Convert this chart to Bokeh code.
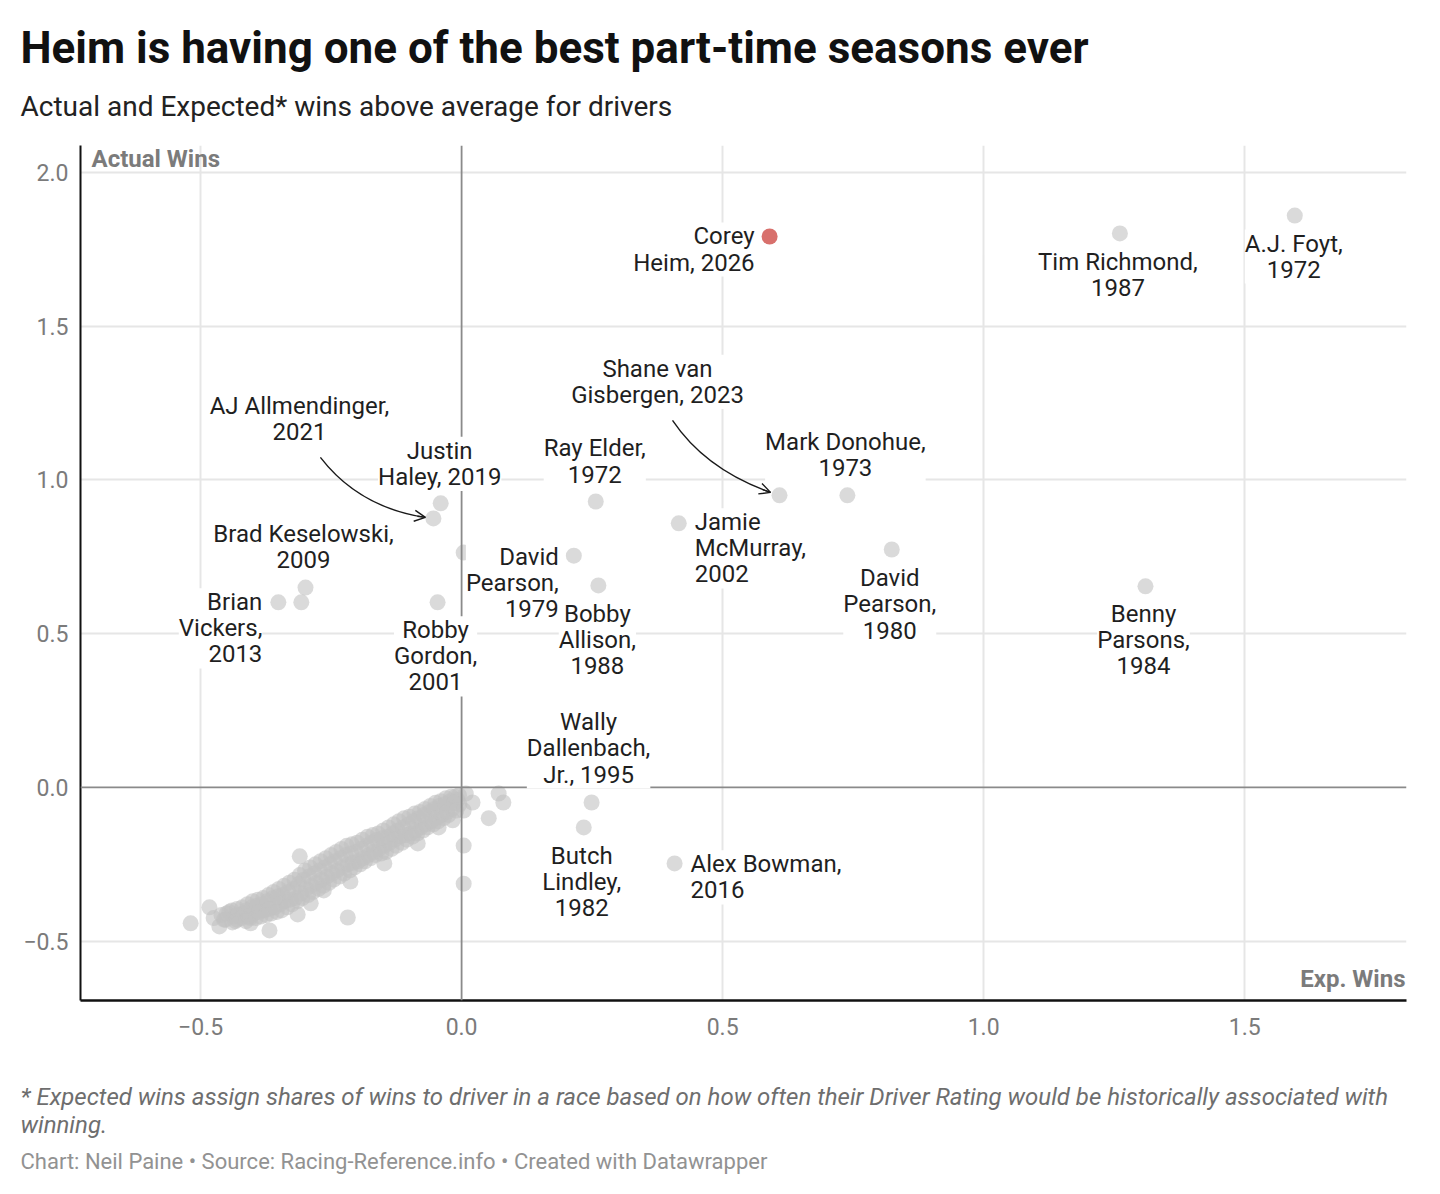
from bokeh.plotting import figure
from bokeh.layouts import column
from bokeh.models import (Label, Span, Range1d, FixedTicker, CustomJSTickFormatter,
                          ColumnDataSource, Arrow, OpenHead)
from bokeh.embed import file_html
from bokeh.resources import INLINE

# ---- data: expected wins above average (x) vs actual wins above average (y) ----
named_driver = [
    "Corey\nHeim, 2026", "Tim Richmond,\n1987", "A.J. Foyt,\n1972",
    "Shane van\nGisbergen, 2023", "Mark Donohue,\n1973", "David\nPearson,\n1980",
    "Benny\nParsons,\n1984", "Jamie\nMcMurray,\n2002", "Ray Elder,\n1972",
    "Bobby\nAllison,\n1988", "David\nPearson,\n1979", "Justin\nHaley, 2019",
    "AJ Allmendinger,\n2021", "Brad Keselowski,\n2009", "Brian\nVickers,\n2013",
    "Robby\nGordon,\n2001", "Wally\nDallenbach,\nJr., 1995", "Butch\nLindley,\n1982",
    "Alex Bowman,\n2016",
]
named_exp = [0.590, 1.261, 1.596, 0.609, 0.739, 0.824, 1.310, 0.416, 0.257, 0.262,
             0.215, -0.040, -0.054, -0.299, -0.351, -0.046, 0.249, 0.234, 0.408]
named_act = [1.792, 1.802, 1.860, 0.950, 0.950, 0.774, 0.654, 0.859, 0.930, 0.657,
             0.754, 0.924, 0.875, 0.650, 0.602, 0.602, -0.049, -0.130, -0.247]

# other driver-seasons
other_exp = [0.004, -0.307]
other_act = [0.764, 0.602]

field_pts = [
    (-0.519, -0.442), (-0.483, -0.390), (-0.464, -0.452), (-0.475, -0.425), (-0.455, -0.430),
    (-0.439, -0.439), (-0.404, -0.442), (-0.368, -0.465), (-0.445, -0.405), (-0.460, -0.415),
    (-0.440, -0.400), (-0.435, -0.420), (-0.430, -0.430),
    (-0.450, -0.410), (-0.452, -0.430),
    (-0.420, -0.390), (-0.418, -0.410), (-0.422, -0.425),
    (-0.430, -0.395), (-0.428, -0.415), (-0.433, -0.435),
    (-0.400, -0.370), (-0.402, -0.390), (-0.398, -0.410), (-0.405, -0.425),
    (-0.410, -0.380), (-0.412, -0.400), (-0.408, -0.420), (-0.413, -0.435),
    (-0.380, -0.360), (-0.383, -0.380), (-0.378, -0.400), (-0.385, -0.420),
    (-0.390, -0.365), (-0.392, -0.385), (-0.388, -0.405), (-0.394, -0.425),
    (-0.360, -0.340), (-0.362, -0.360), (-0.358, -0.390), (-0.365, -0.410),
    (-0.370, -0.350), (-0.372, -0.370), (-0.368, -0.395), (-0.374, -0.415),
    (-0.340, -0.320), (-0.343, -0.350), (-0.338, -0.370), (-0.345, -0.400),
    (-0.350, -0.330), (-0.352, -0.355), (-0.348, -0.380), (-0.354, -0.405),
    (-0.320, -0.300), (-0.322, -0.330), (-0.318, -0.360), (-0.325, -0.380),
    (-0.330, -0.310), (-0.332, -0.340), (-0.328, -0.365), (-0.334, -0.390),
    (-0.300, -0.270), (-0.303, -0.300), (-0.298, -0.330), (-0.305, -0.360),
    (-0.310, -0.285), (-0.312, -0.315), (-0.308, -0.345), (-0.314, -0.370),
    (-0.280, -0.250), (-0.282, -0.280), (-0.278, -0.310), (-0.285, -0.340),
    (-0.290, -0.260), (-0.292, -0.290), (-0.288, -0.320), (-0.294, -0.350),
    (-0.260, -0.230), (-0.262, -0.260), (-0.258, -0.290), (-0.265, -0.320),
    (-0.270, -0.240), (-0.272, -0.270), (-0.268, -0.300), (-0.274, -0.330),
    (-0.240, -0.210), (-0.243, -0.240), (-0.238, -0.270), (-0.245, -0.300),
    (-0.250, -0.220), (-0.252, -0.250), (-0.248, -0.280), (-0.254, -0.310),
    (-0.220, -0.190), (-0.222, -0.220), (-0.218, -0.250), (-0.225, -0.280),
    (-0.230, -0.200), (-0.232, -0.230), (-0.228, -0.260), (-0.234, -0.290),
    (-0.200, -0.180), (-0.203, -0.210), (-0.198, -0.240), (-0.205, -0.260),
    (-0.210, -0.185), (-0.212, -0.215), (-0.208, -0.245), (-0.214, -0.270),
    (-0.180, -0.160), (-0.182, -0.190), (-0.178, -0.220), (-0.185, -0.240),
    (-0.190, -0.170), (-0.192, -0.200), (-0.188, -0.230), (-0.194, -0.250),
    (-0.160, -0.150), (-0.163, -0.170), (-0.158, -0.200), (-0.165, -0.220),
    (-0.170, -0.155), (-0.172, -0.180), (-0.168, -0.210), (-0.174, -0.230),
    (-0.140, -0.130), (-0.142, -0.160), (-0.138, -0.180), (-0.145, -0.210),
    (-0.150, -0.140), (-0.152, -0.165), (-0.148, -0.190), (-0.154, -0.215),
    (-0.120, -0.110), (-0.123, -0.140), (-0.118, -0.160), (-0.125, -0.190),
    (-0.130, -0.120), (-0.132, -0.150), (-0.128, -0.170), (-0.134, -0.200),
    (-0.100, -0.095), (-0.102, -0.120), (-0.098, -0.150), (-0.105, -0.170),
    (-0.110, -0.100), (-0.112, -0.130), (-0.108, -0.155), (-0.114, -0.180),
    (-0.080, -0.080), (-0.083, -0.100), (-0.078, -0.130), (-0.085, -0.150),
    (-0.090, -0.085), (-0.092, -0.110), (-0.088, -0.140), (-0.094, -0.160),
    (-0.060, -0.060), (-0.062, -0.080), (-0.058, -0.110), (-0.065, -0.130),
    (-0.070, -0.070), (-0.072, -0.090), (-0.068, -0.120), (-0.074, -0.140),
    (-0.040, -0.045), (-0.043, -0.060), (-0.038, -0.090), (-0.045, -0.110),
    (-0.050, -0.050), (-0.052, -0.070), (-0.048, -0.100), (-0.054, -0.120),
    (-0.020, -0.030), (-0.022, -0.045), (-0.018, -0.070), (-0.025, -0.090),
    (-0.030, -0.035), (-0.032, -0.055), (-0.028, -0.080), (-0.034, -0.100),
    (-0.005, -0.025), (-0.008, -0.040), (-0.004, -0.055),
    (-0.012, -0.030), (-0.014, -0.050), (-0.010, -0.075),
    (-0.314, -0.413), (-0.310, -0.224), (-0.218, -0.423), (-0.213, -0.306), (-0.148, -0.247),
    (-0.084, -0.182), (-0.044, -0.130), (-0.017, -0.107), (0.004, -0.189), (0.004, -0.313),
    (0.071, -0.020), (0.080, -0.049), (0.052, -0.100), (0.021, -0.049), (0.004, -0.075),
    (-0.264, -0.335), (-0.289, -0.377), (0.008, -0.020),
]
field_exp = [pt[0] for pt in field_pts]
field_act = [pt[1] for pt in field_pts]

x_ticks = [-0.5, 0.0, 0.5, 1.0, 1.5]
y_ticks = [-0.5, 0.0, 0.5, 1.0, 1.5, 2.0]

headline = "Heim is having one of the best part-time seasons ever"
dek = "Actual and Expected* wins above average for drivers"
footnote = ["* Expected wins assign shares of wins to driver in a race based on how often "
            "their Driver Rating would be historically associated with", "winning."]
credit = "Chart: Neil Paine \u2022 Source: Racing-Reference.info \u2022 Created with Datawrapper"

# ---- page geometry (pixels) ----
W = 1440
HEAD_H, MAIN_H, FOOT_H = 140, 910, 144
L, R = 80, 34
FRAME_TOP, FRAME_BOTTOM = 145, 1000
X0, X1 = -0.73, 1.81
Y0, Y1 = -0.693, 2.088
FW = W - L - R
FH = FRAME_BOTTOM - FRAME_TOP
px_x = FW / (X1 - X0)
px_y = FH / (Y1 - Y0)

FONT = "Roboto"
INK = "#1f1f1f"
AXIS_GREY = "#7b7b7b"


def text_strip(height):
    """A bare figure whose data units are page pixels (y grows downward)."""
    f = figure(width=W, height=height, output_backend="svg", toolbar_location=None,
               x_range=Range1d(0, W), y_range=Range1d(height, 0),
               x_axis_type=None, y_axis_type=None, frame_align=False,
               min_border_left=0, min_border_right=0, min_border_top=0, min_border_bottom=0)
    f.title = None
    f.outline_line_color = None
    f.grid.visible = False
    f.background_fill_color = "white"
    f.border_fill_color = "white"
    return f


def put_text(f, text, x, y, size, color, style="normal"):
    f.add_layout(Label(x=x, y=y, text=text, text_font=FONT, text_font_size=size,
                       text_color=color, text_font_style=style,
                       text_align="left", text_baseline="middle"))


# ---- headline strip ----
head = text_strip(HEAD_H)
put_text(head, headline, 20, 47, "44px", "#111111", "bold")
put_text(head, dek, 20, 106, "28px", "#222222")

# ---- scatter ----
p = figure(width=W, height=MAIN_H, output_backend="svg", toolbar_location=None,
           x_range=Range1d(X0, X1), y_range=Range1d(Y0, Y1), frame_align=False,
           min_border_left=L, min_border_right=R,
           min_border_top=FRAME_TOP - HEAD_H,
           min_border_bottom=HEAD_H + MAIN_H - FRAME_BOTTOM)
p.title = None
p.outline_line_color = None
p.background_fill_color = "white"
p.border_fill_color = "white"

minus_fmt = CustomJSTickFormatter(code="return (tick < 0 ? '\\u2212' : '') + Math.abs(tick).toFixed(1);")

for ax, ticks in ((p.xaxis[0], x_ticks), (p.yaxis[0], y_ticks)):
    ax.ticker = FixedTicker(ticks=ticks)
    ax.formatter = minus_fmt
    ax.major_tick_line_color = None
    ax.minor_tick_line_color = None
    ax.major_tick_out = 0
    ax.major_tick_in = 0
    ax.axis_line_color = "#111111"
    ax.major_label_text_font = FONT
    ax.major_label_text_font_size = "23px"
    ax.major_label_text_color = AXIS_GREY
p.yaxis[0].axis_line_width = 2
p.xaxis[0].axis_line_width = 2.5
p.yaxis[0].major_label_standoff = 12
p.xaxis[0].major_label_standoff = 17

p.xgrid[0].ticker = FixedTicker(ticks=[t for t in x_ticks if t != 0])
p.ygrid[0].ticker = FixedTicker(ticks=[t for t in y_ticks if t != 0])
for g in (p.xgrid[0], p.ygrid[0]):
    g.grid_line_color = "#e6e6e6"
    g.grid_line_width = 2

p.add_layout(Span(location=0, dimension="height", line_color="#8a8a8a", line_width=1.8))
p.add_layout(Span(location=0, dimension="width", line_color="#8a8a8a", line_width=1.8))

DOT = 16
GREY_DOT = dict(size=DOT, fill_color="#c2c2c2", fill_alpha=0.6, line_color=None)
p.scatter(x=field_exp, y=field_act, **GREY_DOT)
p.scatter(x=other_exp, y=other_act, **GREY_DOT)
src = ColumnDataSource(dict(x=named_exp[1:], y=named_act[1:]))
p.scatter(x="x", y="y", source=src, **GREY_DOT)
p.scatter(x=named_exp[:1], y=named_act[:1], size=DOT, fill_color="#d8706c", line_color=None)

# point labels: (pixel dx, pixel dy downward to block centre, alignment)
placement = [
    (-15, 13, "right"), (-2, 41.5, "center"), (-1, 41, "center"), (-122, -113.5, "center"),
    (-2, -40, "center"), (-2, 55, "center"), (-2, 54, "center"), (16, 25, "left"),
    (-1, -40, "center"), (-1, 55, "center"), (-15, 27, "right"), (-1, -39.5, "center"),
    (-134, -99.5, "center"), (-2, -40.5, "center"), (-16, 26, "right"), (-2, 54, "center"),
    (-3, -54, "center"), (-2, 55, "center"), (16, 14, "left"),
]
for name, xv, yv, (dx, dy, al) in zip(named_driver, named_exp, named_act, placement):
    p.add_layout(Label(x=xv, y=yv, x_offset=dx, y_offset=-dy, text=name,
                       text_font=FONT, text_font_size="24px", text_color=INK,
                       text_align=al, text_baseline="middle", text_line_height=0.93,
                       background_fill_color="white", background_fill_alpha=1.0))


def to_data(xv, yv, dx, dy):
    return xv + dx / px_x, yv - dy / px_y


def callout(i, start, ctrl, end):
    xv, yv = named_exp[i], named_act[i]
    sx, sy = to_data(xv, yv, *start)
    cx, cy = to_data(xv, yv, *ctrl)
    ex, ey = to_data(xv, yv, *end)
    p.quadratic(x0=[sx], y0=[sy], x1=[ex], y1=[ey], cx=[cx], cy=[cy],
                line_color="#1a1a1a", line_width=1.4)
    tx, ty = ex - (ex - cx) * 0.12, ey - (ey - cy) * 0.12
    p.add_layout(Arrow(end=OpenHead(size=11, line_color="#1a1a1a", line_width=1.4),
                       x_start=tx, y_start=ty, x_end=ex, y_end=ey,
                       line_color="#1a1a1a", line_width=1.4))


callout(12, (-113, -61), (-74.5, -11), (-8, -1))   # AJ Allmendinger
callout(3, (-107, -75), (-74, -26), (-9, -3))      # Shane van Gisbergen

p.add_layout(Label(x=X0, y=Y1, x_offset=11, y_offset=-13, text="Actual Wins",
                   text_font=FONT, text_font_size="24px", text_font_style="bold",
                   text_color=AXIS_GREY, text_baseline="middle", text_align="left"))
p.add_layout(Label(x=X1, y=Y0, x_offset=-1, y_offset=22, text="Exp. Wins",
                   text_font=FONT, text_font_size="24px", text_font_style="bold",
                   text_color=AXIS_GREY, text_baseline="middle", text_align="right"))

# ---- notes strip ----
foot = text_strip(FOOT_H)
put_text(foot, footnote[0], 20, 46, "24px", "#6e6e6e", "italic")
put_text(foot, footnote[1], 20, 74, "24px", "#6e6e6e", "italic")
put_text(foot, credit, 20, 111, "22px", "#929292")

page = column(head, p, foot, spacing=0)
open("out.html", "w").write(file_html(page, INLINE))
